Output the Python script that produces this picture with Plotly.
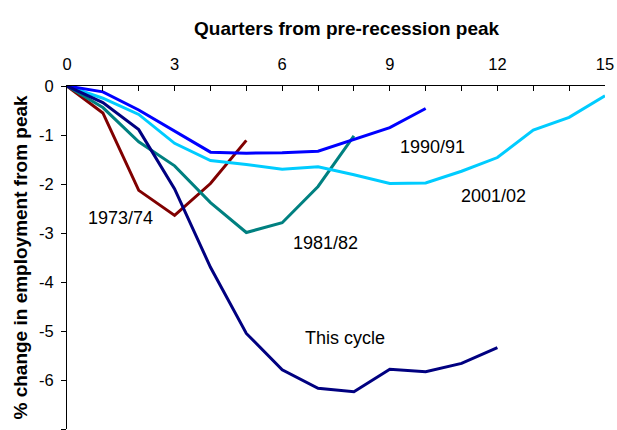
import plotly.graph_objects as go

quarters = list(range(0, 16))

s_1973 = [0, -0.55, -2.13, -2.64, -1.99, -1.11]
s_1981 = [0, -0.44, -1.14, -1.63, -2.38, -2.99, -2.79, -2.05, -1.02]
s_1990 = [0, -0.12, -0.49, -0.92, -1.35, -1.37, -1.36, -1.33, -1.09, -0.85, -0.46]
s_2001 = [0, -0.25, -0.58, -1.17, -1.52, -1.60, -1.70, -1.65, -1.81, -1.99, -1.98,
          -1.74, -1.46, -0.90, -0.64, -0.20]
s_this = [0, -0.34, -0.89, -2.10, -3.70, -5.05, -5.79, -6.17, -6.24, -5.78, -5.83,
          -5.66, -5.34]

y_ticks = [0, -1, -2, -3, -4, -5, -6, -7]
y_ticklabels = ["0", "-1", "-2", "-3", "-4", "-5", "-6", "-7"]

series = [
    ("1973/74", s_1973, "#800000"),
    ("1981/82", s_1981, "#008080"),
    ("2001/02", s_2001, "#00CCFF"),
    ("1990/91", s_1990, "#0000FF"),
    ("This cycle", s_this, "#000080"),
]

labels = [
    ("1973/74", 1.5, -2.7),
    ("1981/82", 7.2, -3.2),
    ("1990/91", 10.2, -1.25),
    ("2001/02", 11.9, -2.25),
    ("This cycle", 7.75, -5.15),
]

FONT = "Liberation Sans, Arial"

fig = go.Figure()
for name, vals, col in series:
    fig.add_trace(go.Scatter(x=quarters[:len(vals)], y=vals, mode="lines", name=name,
                             line=dict(color=col, width=3), showlegend=False))

for txt, x, y in labels:
    fig.add_annotation(x=x, y=y, text=txt, showarrow=False,
                       font=dict(family=FONT, size=18, color="black"))

fig.add_annotation(xref="paper", yref="paper", x=0.52, y=1, yshift=58, yanchor="middle",
                   text="<b>Quarters from pre-recession peak</b>",
                   showarrow=False, font=dict(family=FONT, size=19, color="black"))
fig.add_annotation(xref="paper", yref="paper", x=0, xshift=-47, xanchor="center", y=0.5,
                   textangle=-90,
                   text="<b>% change in employment from peak</b>", showarrow=False,
                   font=dict(family=FONT, size=19, color="black"))

fig.update_layout(
    width=617, height=430,
    margin=dict(l=67, r=12, t=86, b=1),
    paper_bgcolor="white", plot_bgcolor="white",
    font=dict(family=FONT, size=16.5, color="black"),
    xaxis=dict(side="top", range=[0, 15], dtick=3, tick0=0, ticks="inside", ticklen=5,
               tickcolor="black", showline=True, linecolor="black", linewidth=1,
               showgrid=False, zeroline=False, ticklabelstandoff=8, automargin=False,
               minor=dict(dtick=1, ticks="inside", ticklen=5, tickcolor="black", showgrid=False)),
    yaxis=dict(range=[-7, 0], tickvals=y_ticks, ticktext=y_ticklabels, ticks="outside",
               ticklen=5, tickcolor="black", showline=True, linecolor="black", linewidth=1,
               showgrid=False, zeroline=False, automargin=False, ticklabelstandoff=4),
)

fig.write_html("out.html", config={"displayModeBar": False},
               post_script="document.body.style.margin='0';document.body.style.overflow='hidden';")
